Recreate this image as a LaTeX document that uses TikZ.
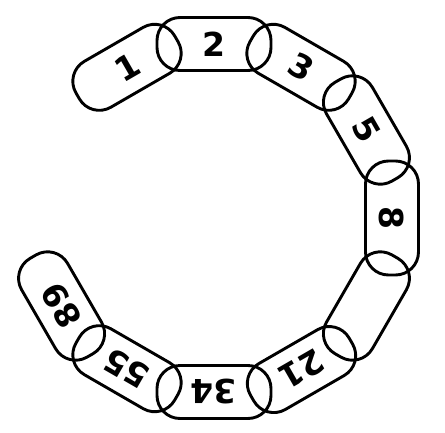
\documentclass[tikz,border=0pt]{standalone}
\usepackage{fontspec}
\setmainfont{DejaVu Sans}
\begin{document}
\begin{tikzpicture}
\tikzset{link/.style={draw, line width=2.9pt, rectangle, rounded corners=23pt,
  minimum width=114pt, minimum height=53pt, inner sep=0pt},
  lbl/.style={inner sep=0pt, font=\fontsize{33}{33}\selectfont\bfseries}}
\useasboundingbox (0,0) rectangle (445pt,-432pt);
\begin{scope}[shift={(214pt,-218pt)}]
\node[link, rotate=30]   (l1)  at (120:174pt) {};
\node[link, rotate=0]    (l2)  at (90:174pt)  {};
\node[link, rotate=-30]  (l3)  at (60:174pt)  {};
\node[link, rotate=-60]  (l5)  at (30:176pt)  {};
\node[link, rotate=-90]  (l8)  at (0:178pt)   {};
\node[link, rotate=-120] (l13) at (-30:176pt) {};
\node[link, rotate=-150] (l21) at (-60:175pt) {};
\node[link, rotate=-180] (l34) at (-90:174pt) {};
\node[link, rotate=150]  (l55) at (-120:174pt) {};
\node[link, rotate=120]  (l89) at (-150:176pt) {};
\end{scope}
\node[lbl, rotate=30]   (t1)  at (l1.center)  {1};
\node[lbl, rotate=0]    (t2)  at (l2.center)  {2};
\node[lbl, rotate=-30]  (t3)  at (l3.center)  {3};
\node[lbl, rotate=-60]  (t5)  at (l5.center)  {5};
\node[lbl, rotate=-90]  (t8)  at (l8.center)  {8};
\node[lbl, rotate=-150] (t21) at (l21.center) {21};
\node[lbl, rotate=-180] (t34) at (l34.center) {34};
\node[lbl, rotate=150]  (t55) at (l55.center) {55};
\node[lbl, rotate=120]  (t89) at (l89.center) {89};
\end{tikzpicture}
\end{document}
